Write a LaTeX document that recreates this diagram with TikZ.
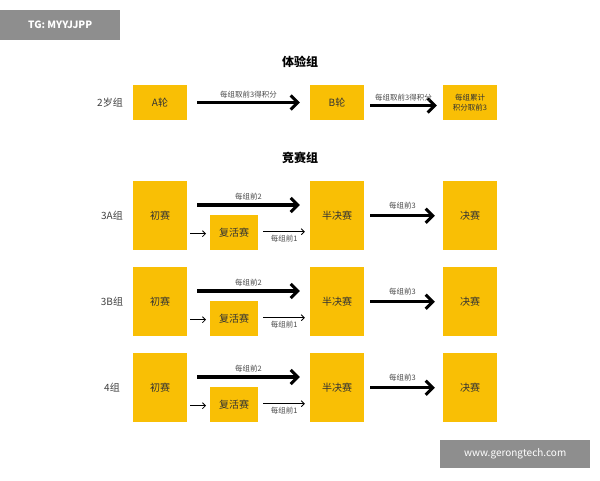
\documentclass[tikz,border=0pt]{standalone}
\usepackage{fontspec}
\setmainfont{Noto Sans CJK SC}
\usetikzlibrary{arrows.meta}
\definecolor{yel}{HTML}{F9BF05}
\definecolor{badge}{HTML}{8E8E8E}
\tikzset{
 box/.style={fill=yel,draw=none,inner sep=0pt,font=\fontsize{10}{12}\selectfont,text=black!80},
 big/.style={line width=3.5pt,-{Straight Barb[length=7pt,width=14pt,line width=3pt]}},
 sm/.style={line width=0.8pt,-{Straight Barb[length=3pt,width=6pt]}},
 lab/.style={font=\fontsize{7.5}{8}\selectfont,text=black!70,inner sep=1pt},
 grp/.style={font=\fontsize{10}{12}\selectfont,text=black!75},
 ttl/.style={font=\bfseries\fontsize{12}{14}\selectfont},
}
\begin{document}
\begin{tikzpicture}[x=1pt,y=-1pt]
\useasboundingbox (0,0) rectangle (600,480);
\fill[white] (0,0) rectangle (600,480);
\node[fill=badge,text=white,minimum width=120pt,minimum height=30pt,font=\bfseries\fontsize{10}{12}\selectfont,anchor=north west] (tg) at (0,10) {TG: MYYJJPP};
\node[fill=badge,text=white,minimum width=150pt,minimum height=28pt,font=\fontsize{10}{12}\selectfont,anchor=north west] (wm) at (440,440) {www.gerongtech.com};
\node[ttl] (t1) at (300,62) {体验组};
\node[grp] (g2) at (110,103) {2岁组};
\node[box,minimum width=54pt,minimum height=35pt] (a) at (160,102.5) {A轮};
\node[box,minimum width=54pt,minimum height=35pt] (b) at (337,102.5) {B轮};
\node[box,minimum width=54pt,minimum height=35pt,align=center,font=\fontsize{7.5}{10}\selectfont] (c) at (470,102.5) {每组累计\\积分取前3};
\draw[big] ([xshift=10pt]a.east) -- node[lab,above=2pt]{每组取前3得积分} ([xshift=-10pt]b.west);
\draw[big] ([xshift=6pt,yshift=-3pt]b.east) -- node[lab,above=2pt]{每组取前3得积分} ([xshift=-6pt,yshift=-3pt]c.west);
\node[ttl] (t2) at (300,158) {竞赛组};
\foreach \n/\g/\y in {r1/3A组/181, r2/3B组/267, r3/4组/353}{
 \node[grp] (\n g) at (112,\y+34.5) {\g};
 \node[box,minimum width=54pt,minimum height=69pt,anchor=north] (\n a) at (160,\y) {初赛};
 \node[box,minimum width=54pt,minimum height=69pt,anchor=north] (\n b) at (337,\y) {半决赛};
 \node[box,minimum width=54pt,minimum height=69pt,anchor=north] (\n c) at (470,\y) {决赛};
 \node[box,minimum width=48pt,minimum height=35pt,anchor=north west] (\n r) at (210,\y+34) {复活赛};
 \draw[big] ([xshift=10pt,yshift=-24pt]\n a.north east) -- node[lab,above=2pt]{每组前2} ([xshift=-10pt,yshift=-24pt]\n b.north west);
 \draw[sm] ([xshift=3pt]\n a.east |- \n r.center) ++(0,1) -- ([xshift=-4pt,yshift=-1pt]\n r.west);
 \draw[sm] ([xshift=5pt,yshift=1pt]\n r.east) -- node[lab,below=2pt]{每组前1} ([xshift=-5pt,yshift=1pt]\n b.west |- \n r.east);
 \draw[big] ([xshift=6pt]\n b.east) -- node[lab,above=4pt]{每组前3} ([xshift=-8pt]\n c.west);
}
\end{tikzpicture}
\end{document}
